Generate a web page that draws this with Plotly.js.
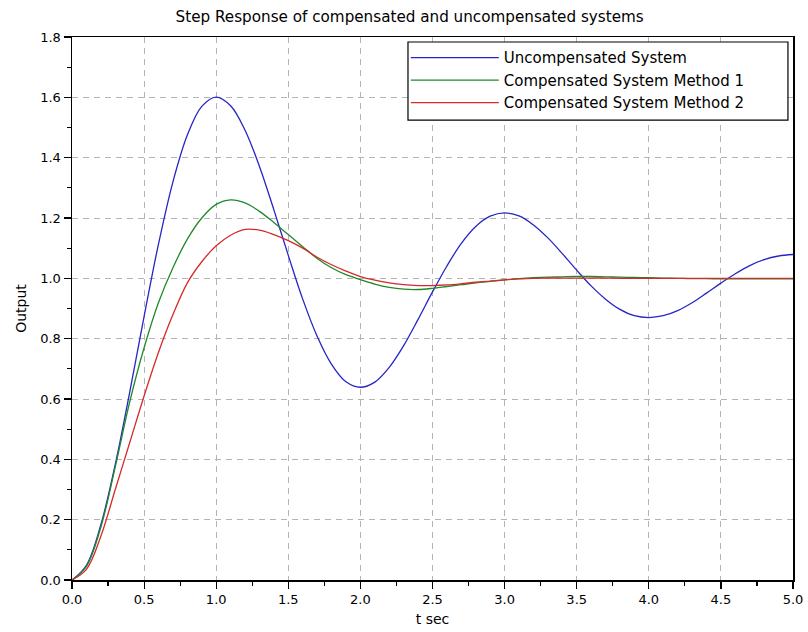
<!DOCTYPE html>
<html>
<head>
<meta charset="utf-8">
<script src="https://cdn.plot.ly/plotly-3.0.1.min.js"></script>
<style>html,body{margin:0;padding:0;background:#fff;}#chart{width:808px;height:632px;}</style>
</head>
<body>
<div id="chart"></div>
<script>
const t = [0.0,0.1,0.2,0.3,0.4,0.5,0.6,0.7,0.8,0.9,1.0,1.1,1.2,1.3,1.4,1.5,1.6,1.7,1.8,1.9,2.0,2.1,2.2,2.3,2.4,2.5,2.6,2.7,2.8,2.9,3.0,3.1,3.2,3.3,3.4,3.5,3.6,3.7,3.8,3.9,4.0,4.1,4.2,4.3,4.4,4.5,4.6,4.7,4.8,4.9,5.0];

const uncompensated = [0.000,0.049,0.183,0.383,0.622,0.874,1.114,1.320,1.475,1.570,1.601,1.572,1.491,1.371,1.227,1.076,0.931,0.808,0.715,0.657,0.639,0.656,0.705,0.777,0.864,0.955,1.041,1.116,1.172,1.206,1.217,1.207,1.177,1.134,1.082,1.027,0.975,0.931,0.897,0.876,0.870,0.876,0.893,0.919,0.951,0.984,1.015,1.042,1.062,1.074,1.079];

const method1 = [0.000,0.045,0.175,0.375,0.590,0.770,0.920,1.035,1.130,1.200,1.245,1.260,1.250,1.222,1.185,1.145,1.105,1.066,1.035,1.012,0.996,0.981,0.970,0.964,0.963,0.967,0.973,0.979,0.985,0.990,0.995,0.999,1.002,1.004,1.005,1.006,1.006,1.005,1.004,1.003,1.002,1.001,1.000,0.999,0.999,0.998,0.998,0.998,0.998,0.998,0.998];

const method2 = [0.000,0.035,0.145,0.300,0.455,0.610,0.755,0.880,0.985,1.055,1.108,1.143,1.162,1.160,1.145,1.125,1.100,1.070,1.045,1.024,1.006,0.994,0.985,0.979,0.976,0.976,0.978,0.982,0.987,0.991,0.995,0.998,1.000,1.001,1.001,1.001,1.001,1.001,1.000,1.000,1.000,1.000,1.000,1.000,1.000,1.000,1.000,1.000,1.000,1.000,1.000];

const names = ['Uncompensated System','Compensated System Method 1','Compensated System Method 2'];
const colors = ['#2626c4','#1e8a2a','#d42a2a'];
const series = [uncompensated, method1, method2];

const xTicks = [0,0.5,1,1.5,2,2.5,3,3.5,4,4.5,5];
const xTickText = ['0.0','0.5','1.0','1.5','2.0','2.5','3.0','3.5','4.0','4.5','5.0'];
const yTicks = [0,0.2,0.4,0.6,0.8,1.0,1.2,1.4,1.6,1.8];
const yTickText = ['0.0','0.2','0.4','0.6','0.8','1.0','1.2','1.4','1.6','1.8'];

const data = series.map((s,i)=>({
  x: t, y: s, type:'scatter', mode:'lines', name: names[i],
  line:{color:colors[i], width:1.3, shape:'spline', smoothing:1}
}));

const font = 'DejaVu Sans, sans-serif';
const layout = {
  width:808, height:632,
  margin:{l:72, r:15, t:37, b:52},
  paper_bgcolor:'#fff', plot_bgcolor:'#fff',
  title:{text:'Step Response of compensated and uncompensated systems', font:{family:font, size:15.2, color:'#000'}, x:0.507, xref:'container', xanchor:'center', y:0.973, yref:'container', yanchor:'middle'},
  xaxis:{range:[0,5], tickvals:xTicks, ticktext:xTickText, showline:true, linecolor:'#000', linewidth:1.5, mirror:true,
    ticks:'outside', ticklen:7, tickcolor:'#000', tickwidth:1.2,
    minor:{dtick:0.25, ticks:'outside', ticklen:4, tickcolor:'#000', showgrid:false},
    showgrid:true, gridcolor:'#b4b4b4', griddash:'6px,5px', gridwidth:1, zeroline:false,
    tickfont:{family:font, size:13, color:'#000'},
    title:{text:'t sec', font:{family:font, size:14, color:'#000'}, standoff:8}},
  yaxis:{range:[0,1.8], tickvals:yTicks, ticktext:yTickText, showline:true, linecolor:'#000', linewidth:1.5, mirror:true,
    ticks:'outside', ticklen:7, tickcolor:'#000', tickwidth:1.2,
    minor:{dtick:0.1, ticks:'outside', ticklen:4, tickcolor:'#000', showgrid:false},
    showgrid:true, gridcolor:'#b4b4b4', griddash:'6px,5px', gridwidth:1, zeroline:false,
    tickfont:{family:font, size:13, color:'#000'},
    title:{text:'Output', font:{family:font, size:14, color:'#000'}, standoff:10}},
  shapes:[{type:'rect', xref:'paper', yref:'paper', x0:0.466, x1:0.993, y0:0.847, y1:0.9908,
    line:{color:'#000', width:1.2}, fillcolor:'#fff', layer:'above'}],
  legend:{x:0.463, xanchor:'left', y:0.992, yanchor:'top', bgcolor:'rgba(0,0,0,0)', borderwidth:0,
    font:{family:font, size:15, color:'#000'}, itemwidth:88, tracegroupgap:0},
  showlegend:true
};

Plotly.newPlot('chart', data, layout, {displayModeBar:false, staticPlot:true});
</script>
</body>
</html>
